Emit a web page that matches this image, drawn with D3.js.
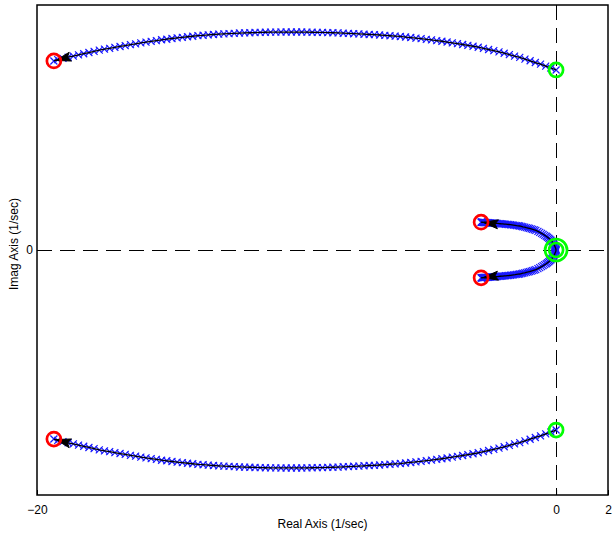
<!DOCTYPE html>
<html><head><meta charset="utf-8">
<script src="https://cdn.jsdelivr.net/npm/d3@7"></script>
<style>body{margin:0;background:#fff}svg{display:block}text{font-family:"Liberation Sans",Arial,sans-serif}</style>
</head><body><svg id="c" width="612" height="533"></svg>
<script>
// Outer branch (upper half; lower half is its conjugate)
const outerRe = [0,-0.2,-0.4,-0.6,-0.8,-1.0,-1.2,-1.4,-1.6,-1.8,-2.0,-2.2,-2.4,-2.6,-2.8,-3.0,-3.2,-3.4,-3.6,-3.8,-4.0,-4.2,-4.4,-4.6,-4.8,-5.0,-5.2,-5.4,-5.6,-5.8,-6.0,-6.2,-6.4,-6.6,-6.8,-7.0,-7.2,-7.4,-7.6,-7.8,-8.0,-8.2,-8.4,-8.6,-8.8,-9.0,-9.2,-9.4,-9.6,-9.8,-10.0,-10.2,-10.4,-10.6,-10.8,-11.0,-11.2,-11.4,-11.6,-11.8,-12.0,-12.2,-12.4,-12.6,-12.8,-13.0,-13.2,-13.4,-13.6,-13.8,-14.0,-14.2,-14.4,-14.6,-14.8,-15.0,-15.2,-15.4,-15.6,-15.8,-16.0,-16.2,-16.4,-16.6,-16.8,-17.0,-17.2,-17.4,-17.6,-17.8,-18.0,-18.2,-18.4,-18.6,-18.8,-19.0,-19.2,-19.35];
const outerIm = [18.37,18.57,18.76,18.96,19.13,19.31,19.48,19.65,19.79,19.94,20.08,20.22,20.34,20.46,20.58,20.69,20.79,20.88,20.97,21.06,21.14,21.22,21.30,21.37,21.44,21.50,21.57,21.62,21.68,21.73,21.79,21.83,21.86,21.90,21.94,21.97,21.99,22.02,22.05,22.07,22.10,22.12,22.15,22.17,22.18,22.20,22.21,22.22,22.23,22.24,22.24,22.24,22.24,22.24,22.23,22.23,22.22,22.21,22.19,22.17,22.16,22.14,22.11,22.08,22.06,22.03,21.99,21.95,21.91,21.87,21.81,21.76,21.70,21.64,21.58,21.51,21.45,21.37,21.29,21.21,21.13,21.04,20.95,20.86,20.77,20.68,20.58,20.49,20.39,20.27,20.15,20.03,19.91,19.79,19.67,19.56,19.42,19.29];
// Inner branch (upper half)
const innerRe = [0,-0.01,-0.02,-0.04,-0.05,-0.07,-0.09,-0.11,-0.14,-0.17,-0.2,-0.24,-0.28,-0.33,-0.38,-0.44,-0.5,-0.56,-0.63,-0.7,-0.78,-0.84,-0.9,-0.96,-1.02,-1.08,-1.15,-1.21,-1.28,-1.34,-1.4,-1.46,-1.52,-1.58,-1.64,-1.7,-1.76,-1.82,-1.88,-1.94,-2.0,-2.05,-2.1,-2.15,-2.2,-2.25,-2.3,-2.35,-2.4,-2.44,-2.48,-2.52,-2.56,-2.6,-2.63,-2.67,-2.7,-2.73,-2.75,-2.78,-2.8,-2.82,-2.84,-2.86,-2.87,-2.88,-2.89];
const innerIm = [0,0.1,0.2,0.3,0.4,0.5,0.6,0.7,0.8,0.9,1.0,1.1,1.2,1.3,1.4,1.5,1.6,1.7,1.8,1.9,2.0,2.05,2.1,2.15,2.2,2.24,2.28,2.33,2.37,2.41,2.45,2.47,2.49,2.52,2.54,2.56,2.58,2.6,2.61,2.63,2.64,2.66,2.67,2.68,2.69,2.71,2.72,2.73,2.74,2.75,2.75,2.76,2.77,2.78,2.79,2.79,2.8,2.8,2.81,2.81,2.82,2.82,2.83,2.83,2.83,2.84,2.84];
// end markers (red) and start markers (green)
const endRe = [-19.35,-19.35,-2.89,-2.89];
const endIm = [19.29,-19.29,2.84,-2.84];
const startRe = [0,0,0,0];
const startIm = [18.37,-18.37,0,0];
const startSize = [7,7,7,11];
const xTicks = [-20,0,2];
const yTicks = [0];
const xLabel = "Real Axis (1/sec)";
const yLabel = "Imag Axis (1/sec)";

const svg = d3.select("#c");
const L=37,R=608,T=5,B=495;
const x = d3.scaleLinear().domain([-20,2]).range([L,R]);
const y = d3.scaleLinear().domain([-25,25]).range([B,T]);

const mk = (re,im,s)=>re.map((r,i)=>({re:r,im:s*im[i]}));
const branches = [mk(outerRe,outerIm,1),mk(outerRe,outerIm,-1),mk(innerRe,innerIm,1),mk(innerRe,innerIm,-1)];

const g = svg.append("g");
g.append("clipPath").attr("id","cp").append("rect").attr("x",L).attr("y",T).attr("width",R-L).attr("height",B-T);
const plot = g.append("g").attr("clip-path","url(#cp)");

// dashed axes (crisp)
const x0 = Math.floor(x(0))+0.5, y0 = Math.floor(y(0))+0.5;
plot.append("line").attr("x1",L).attr("x2",R).attr("y1",y0).attr("y2",y0)
  .attr("stroke","#000").attr("stroke-width",1).attr("shape-rendering","crispEdges").attr("stroke-dasharray","15,8");
plot.append("line").attr("x1",x0).attr("x2",x0).attr("y1",T).attr("y2",B)
  .attr("stroke","#000").attr("stroke-width",1).attr("shape-rendering","crispEdges").attr("stroke-dasharray","15,8");

const line = d3.line().x(d=>x(d.re)).y(d=>y(d.im));
branches.forEach(b=>{
  plot.append("g").selectAll("path").data(b).join("path")
    .attr("transform",d=>`translate(${x(d.re)},${y(d.im)})`)
    .attr("d","M-3.5,-3.5L3.5,3.5M-3.5,3.5L3.5,-3.5").attr("stroke","#1a1aff").attr("stroke-width",1.2).attr("fill","none");
});
branches.forEach(b=>{
  plot.append("path").datum(b).attr("d",line).attr("fill","none").attr("stroke","#000").attr("stroke-width",1.3);
  const n=b.length, e=b[n-1], p=b[Math.max(0,n-4)];
  const ex=x(e.re), ey=y(e.im);
  const dx=x(e.re)-x(p.re), dy=y(e.im)-y(p.im), len=Math.hypot(dx,dy);
  const ux=dx/len, uy=dy/len, tipx=ex-ux*2, tipy=ey-uy*2;
  const bx=tipx-ux*15, by=tipy-uy*15;
  plot.append("path").attr("d",`M${tipx},${tipy}L${bx-uy*4.5},${by+ux*4.5}L${bx+ux*3},${by+uy*3}L${bx+uy*4.5},${by-ux*4.5}Z`)
    .attr("fill","#000").attr("stroke","#000").attr("stroke-width",1);
});
plot.append("g").selectAll("circle").data(endRe.map((r,i)=>({re:r,im:endIm[i]}))).join("circle")
  .attr("cx",d=>x(d.re)).attr("cy",d=>y(d.im)).attr("r",7).attr("fill","none").attr("stroke","#ff0000").attr("stroke-width",2.7);
plot.append("g").selectAll("circle").data(startRe.map((r,i)=>({re:r,im:startIm[i],s:startSize[i]}))).join("circle")
  .attr("cx",d=>x(d.re)).attr("cy",d=>y(d.im)).attr("r",d=>d.s).attr("fill","none").attr("stroke","#00ff00").attr("stroke-width",2.7);

const xa = g.append("g").attr("transform",`translate(0,${B})`)
  .call(d3.axisBottom(x).tickValues(xTicks).tickSizeInner(-5).tickSizeOuter(0).tickPadding(10));
const ya = g.append("g").attr("transform",`translate(${L},0)`)
  .call(d3.axisLeft(y).tickValues(yTicks).tickSizeInner(-5).tickSizeOuter(0).tickPadding(4));
[xa,ya].forEach(a=>{a.select(".domain").remove();a.selectAll("text").attr("font-size",12).attr("fill","#000").attr("font-family","Liberation Sans, Arial, sans-serif");a.selectAll("line").attr("stroke","#000");});

g.append("rect").attr("x",L).attr("y",T).attr("width",R-L).attr("height",B-T).attr("fill","none").attr("stroke","#000").attr("stroke-width",1.5);

svg.append("text").attr("x",(L+R)/2).attr("y",528).attr("text-anchor","middle").attr("font-size",12).text(xLabel);
svg.append("text").attr("transform",`translate(18,244) rotate(-90)`).attr("text-anchor","middle").attr("font-size",12).text(yLabel);
</script></body></html>
